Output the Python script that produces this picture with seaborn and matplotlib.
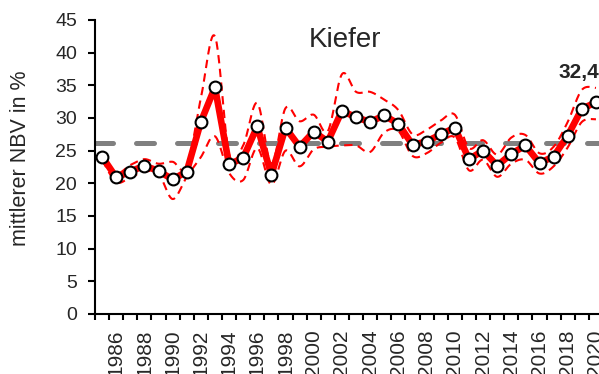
import numpy as np
import pandas as pd
import matplotlib
matplotlib.use("Agg")
import matplotlib.pyplot as plt
import seaborn as sns

# Mean needle loss (NBV) of pine, 1985-2020, with upper / lower bounds
years = list(range(1985, 2021))
nbv = [24.1, 20.9, 21.8, 22.7, 21.9, 20.6, 21.8, 29.4, 34.7, 22.9,
       23.9, 28.7, 21.3, 28.5, 25.6, 27.9, 26.4, 31.1, 30.1, 29.4,
       30.4, 29.1, 25.9, 26.4, 27.5, 28.5, 23.7, 25.0, 22.7, 24.5,
       25.8, 23.1, 24.1, 27.3, 31.4, 32.4]
nbv_upper = [24.6, 21.6, 22.8, 23.7, 23.0, 23.3, 22.5, 33.0, 42.5, 24.5,
             25.8, 32.3, 23.0, 31.5, 29.5, 30.5, 28.0, 36.7, 34.0, 34.0,
             32.8, 31.2, 27.5, 28.2, 29.6, 30.5, 25.4, 26.6, 24.4, 27.0,
             27.4, 24.6, 25.6, 29.4, 34.3, 34.6]
nbv_lower = [23.6, 20.2, 20.9, 21.8, 21.5, 17.6, 21.0, 24.0, 27.2, 21.6,
             20.5, 25.4, 19.8, 25.0, 22.6, 25.2, 25.6, 25.8, 25.8, 24.8,
             27.8, 28.0, 24.2, 24.6, 26.2, 27.0, 22.0, 23.6, 21.0, 23.0,
             23.6, 21.5, 22.6, 25.5, 29.4, 29.8]
label_years = list(range(1986, 2021, 2))
title = "Kiefer"
ylabel = "mittlerer NBV in %"


def smooth_curve(x, y, n=24):
    """Cardinal (Catmull-Rom) spline through the points, like a smoothed chart line."""
    x = np.asarray(x, float)
    y = np.asarray(y, float)
    px = np.concatenate([[x[0]], x, [x[-1]]])
    py = np.concatenate([[y[0]], y, [y[-1]]])
    xs, ys = [], []
    t = np.linspace(0, 1, n, endpoint=False)
    for i in range(1, len(px) - 2):
        p0, p1, p2, p3 = (np.array([px[j], py[j]]) for j in (i - 1, i, i + 1, i + 2))
        c1 = p1 + (p2 - p0) / 6.0
        c2 = p2 - (p3 - p1) / 6.0
        b = ((1 - t) ** 3)[:, None] * p1 + (3 * (1 - t) ** 2 * t)[:, None] * c1 \
            + (3 * (1 - t) * t ** 2)[:, None] * c2 + (t ** 3)[:, None] * p2
        xs.append(b[:, 0])
        ys.append(b[:, 1])
    xs.append([x[-1]])
    ys.append([y[-1]])
    return np.concatenate(xs), np.concatenate(ys)


sns.set_theme(style="white")
plt.rcParams["font.family"] = ["Liberation Sans", "DejaVu Sans"]

df = pd.DataFrame({"Jahr": years, "NBV": nbv})
mean_nbv = float(np.mean(nbv))

fig = plt.figure(figsize=(5.99, 3.74), dpi=100)
W, H = 599, 374
ax = fig.add_axes([95 / W, (H - 314) / H, 508 / W, 294 / H])

# long-term mean
ax.axhline(mean_nbv, color="#808080", lw=3.6, dashes=(3.6, 4.6),
           dash_capstyle="round", zorder=1)

# upper and lower bounds as smoothed dashed lines
for band in (nbv_upper, nbv_lower):
    sx, sy = smooth_curve(years, band)
    sns.lineplot(x=sx, y=sy, ax=ax, color="#ff0000", lw=1.5, sort=False,
                 dashes=False, zorder=2).lines[-1].set_dashes((4, 2.6))

# annual values
sns.lineplot(data=df, x="Jahr", y="NBV", ax=ax, color="#ff0000", lw=4.8,
             marker="o", markersize=8.5, markerfacecolor="white",
             markeredgecolor="black", markeredgewidth=1.5, zorder=3)

ax.set_xlim(1984.5, 2020.5)
ax.set_ylim(0, 45)
ax.set_yticks(np.arange(0, 46, 5))
ax.set_xticks(np.arange(1984.5, 2021, 1.0))
ax.set_xticklabels([])
ax.set_xticks(label_years, minor=True)
ax.set_xticklabels([str(y) for y in label_years], minor=True, rotation=90,
                   fontsize=15)
ax.tick_params(axis="x", which="major", direction="out", length=4.5, width=1.5,
               color="black", bottom=True)
ax.tick_params(axis="x", which="minor", length=0, pad=11, bottom=True)
ax.tick_params(axis="y", direction="out", length=5, width=1.5, color="black",
               left=True, labelsize=14, pad=8)

for side in ("top", "right"):
    ax.spines[side].set_visible(False)
for side in ("left", "bottom"):
    ax.spines[side].set_color("black")
    ax.spines[side].set_linewidth(1.5)

ax.set_xlabel("")
ax.set_ylabel("")
fig.text(21 / W, 1 - 158 / H, ylabel, rotation=90, ha="center", va="center",
         fontsize=15.5)
fig.text(345 / W, 1 - 40 / H, title, ha="center", va="center", fontsize=20)
ax.annotate(f"{nbv[-1]:.1f}".replace(".", ","), xy=(years[-1], nbv[-1]),
            xytext=(-12.5, 21.6), textcoords="offset points", ha="center",
            va="center", fontsize=15, fontweight="bold")

fig.savefig("out.png", dpi=100)
